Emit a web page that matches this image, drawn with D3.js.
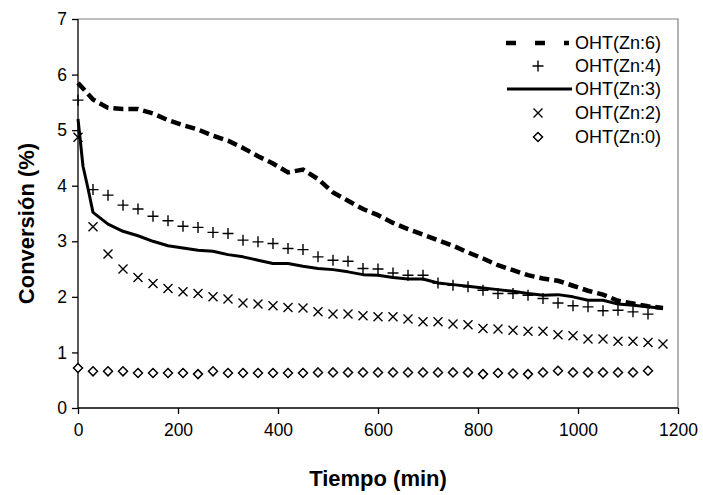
<!DOCTYPE html>
<html><head><meta charset="utf-8">
<script src="https://cdn.jsdelivr.net/npm/d3@7"></script>
<style>body{margin:0;background:#fff}svg{display:block}text{font-family:"Liberation Sans",Arial,sans-serif}</style>
</head><body><svg id="c" width="703" height="495"></svg>
<script>
const times = [0,30,60,90,120,150,180,210,240,270,300,330,360,390,420,450,480,510,540,570,600,630,660,690,720,750,780,810,840,870,900,930,960,990,1020,1050,1080,1110,1140,1170];
const timesZn3 = [0,10,20,30,60,90,120,150,180,210,240,270,300,330,360,390,420,450,480,510,540,570,600,630,660,690,720,750,780,810,840,870,900,930,960,990,1020,1050,1080,1110,1140,1170];
const zn6 = [5.85,5.55,5.40,5.38,5.38,5.30,5.18,5.09,5.01,4.90,4.81,4.68,4.53,4.40,4.24,4.29,4.12,3.88,3.73,3.58,3.47,3.33,3.22,3.12,3.02,2.92,2.80,2.69,2.57,2.48,2.39,2.33,2.29,2.20,2.11,2.04,1.93,1.88,1.83,1.80];
const zn4 = [5.54,3.93,3.83,3.65,3.58,3.45,3.37,3.27,3.25,3.16,3.14,3.02,2.99,2.96,2.87,2.85,2.72,2.66,2.64,2.51,2.50,2.43,2.39,2.39,2.25,2.21,2.18,2.12,2.06,2.06,2.03,1.97,1.89,1.84,1.82,1.75,1.76,1.73,1.69];
const zn3 = [5.20,4.35,3.95,3.52,3.31,3.18,3.10,3.00,2.92,2.88,2.84,2.82,2.76,2.72,2.66,2.60,2.60,2.55,2.51,2.49,2.45,2.40,2.39,2.35,2.32,2.32,2.25,2.22,2.19,2.16,2.13,2.10,2.06,2.03,2.04,2.00,1.94,1.94,1.87,1.85,1.82,1.79];
const zn2 = [4.87,3.26,2.77,2.50,2.35,2.24,2.15,2.09,2.06,2.00,1.96,1.89,1.87,1.84,1.81,1.80,1.73,1.69,1.69,1.66,1.64,1.64,1.60,1.55,1.55,1.51,1.50,1.43,1.42,1.40,1.38,1.38,1.32,1.30,1.24,1.24,1.20,1.20,1.18,1.15];
const zn0 = [0.72,0.66,0.66,0.66,0.63,0.63,0.63,0.63,0.61,0.66,0.63,0.63,0.63,0.63,0.63,0.63,0.64,0.64,0.64,0.64,0.64,0.64,0.64,0.64,0.64,0.64,0.64,0.61,0.63,0.62,0.61,0.64,0.67,0.64,0.64,0.64,0.64,0.64,0.67];
const xTicks = [0,200,400,600,800,1000,1200];
const yTicks = [0,1,2,3,4,5,6,7];
const legendLabels = ["OHT(Zn:6)","OHT(Zn:4)","OHT(Zn:3)","OHT(Zn:2)","OHT(Zn:0)"];
const xTitle = "Tiempo (min)", yTitle = "Conversión (%)";

const svg = d3.select("#c");
const L=78,R=678,T=19,B=408;
const x = d3.scaleLinear().domain([0,1200]).range([L,R]);
const y = d3.scaleLinear().domain([0,7]).range([B,T]);

svg.append("path").attr("d",`M${L},${T}H${R}V${B}`).attr("fill","none").attr("stroke","#808080").attr("stroke-width",1.2);

const gx = svg.append("g").attr("transform",`translate(0,${B})`)
  .call(d3.axisBottom(x).tickValues(xTicks).tickSize(6).tickPadding(10).tickFormat(d3.format("d")));
const gy = svg.append("g").attr("transform",`translate(${L},0)`)
  .call(d3.axisLeft(y).tickValues(yTicks).tickSize(6).tickPadding(5).tickFormat(d3.format("d")));
[gx,gy].forEach(g=>{g.selectAll("path,line").attr("stroke","#000").attr("stroke-width",1.3);
  g.selectAll("text").attr("font-size",17.5).attr("fill","#000").attr("font-family","Liberation Sans, Arial, sans-serif");});
gx.select(".domain").attr("d",`M${L},0H${R}`);
gy.select(".domain").attr("d",`M0,${B}V${T}`);

svg.append("text").attr("x",(L+R)/2).attr("y",486).attr("text-anchor","middle")
  .attr("font-size",22).attr("font-weight","bold").text(xTitle);
svg.append("text").attr("transform",`translate(34,${(T+B)/2+10}) rotate(-90)`).attr("text-anchor","middle")
  .attr("font-size",22).attr("font-weight","bold").text(yTitle);

const line = d3.line().x(d=>x(d[0])).y(d=>y(d[1]));
const s6 = times.map((t,i)=>[t,zn6[i]]);
const s3 = timesZn3.map((t,i)=>[t,zn3[i]]);
const s4 = zn4.map((v,i)=>[times[i],v]);
const s2 = zn2.map((v,i)=>[times[i],v]);
const s0 = zn0.map((v,i)=>[times[i],v]);

const plus="M-5.5,0H5.5M0,-5.5V5.5", cross="M-4.5,-4.5L4.5,4.5M-4.5,4.5L4.5,-4.5", diamond="M0,-4.5L4.5,0L0,4.5L-4.5,0Z";

svg.selectAll(".m0").data(s0).join("path").attr("class","m0").attr("d",diamond).attr("fill","#fff").attr("stroke","#000").attr("stroke-width",1.5)
  .attr("transform",d=>`translate(${x(d[0])},${y(d[1])})`);
svg.selectAll(".m2").data(s2).join("path").attr("class","m2").attr("d",cross).attr("fill","none").attr("stroke","#000").attr("stroke-width",1.4)
  .attr("transform",d=>`translate(${x(d[0])},${y(d[1])})`);
svg.append("path").datum(s3).attr("d",line).attr("fill","none").attr("stroke","#000").attr("stroke-width",3).attr("stroke-linejoin","round");
svg.selectAll(".m4").data(s4).join("path").attr("class","m4").attr("d",plus).attr("fill","none").attr("stroke","#000").attr("stroke-width",1.4)
  .attr("transform",d=>`translate(${x(d[0])},${y(d[1])})`);
svg.append("path").datum(s6).attr("d",line).attr("fill","none").attr("stroke","#000").attr("stroke-width",4.5).attr("stroke-dasharray","10,5");

const lg = svg.append("g");
const rowY = [43,66,89,113,137];
lg.selectAll("text").data(legendLabels).join("text").attr("x",575).attr("y",(d,i)=>rowY[i]).attr("dy","0.35em")
  .attr("font-size",18).text(d=>d);
lg.append("line").attr("x1",506).attr("x2",569).attr("y1",rowY[0]).attr("y2",rowY[0]).attr("stroke","#000").attr("stroke-width",4.5).attr("stroke-dasharray","10,19");
lg.append("path").attr("d",plus).attr("stroke","#000").attr("stroke-width",1.4).attr("transform",`translate(538,${rowY[1]})`);
lg.append("line").attr("x1",507).attr("x2",572).attr("y1",rowY[2]).attr("y2",rowY[2]).attr("stroke","#000").attr("stroke-width",3);
lg.append("path").attr("d",cross).attr("stroke","#000").attr("stroke-width",1.4).attr("transform",`translate(538,${rowY[3]})`);
lg.append("path").attr("d",diamond).attr("fill","#fff").attr("stroke","#000").attr("stroke-width",1.5).attr("transform",`translate(538,${rowY[4]})`);
</script></body></html>
